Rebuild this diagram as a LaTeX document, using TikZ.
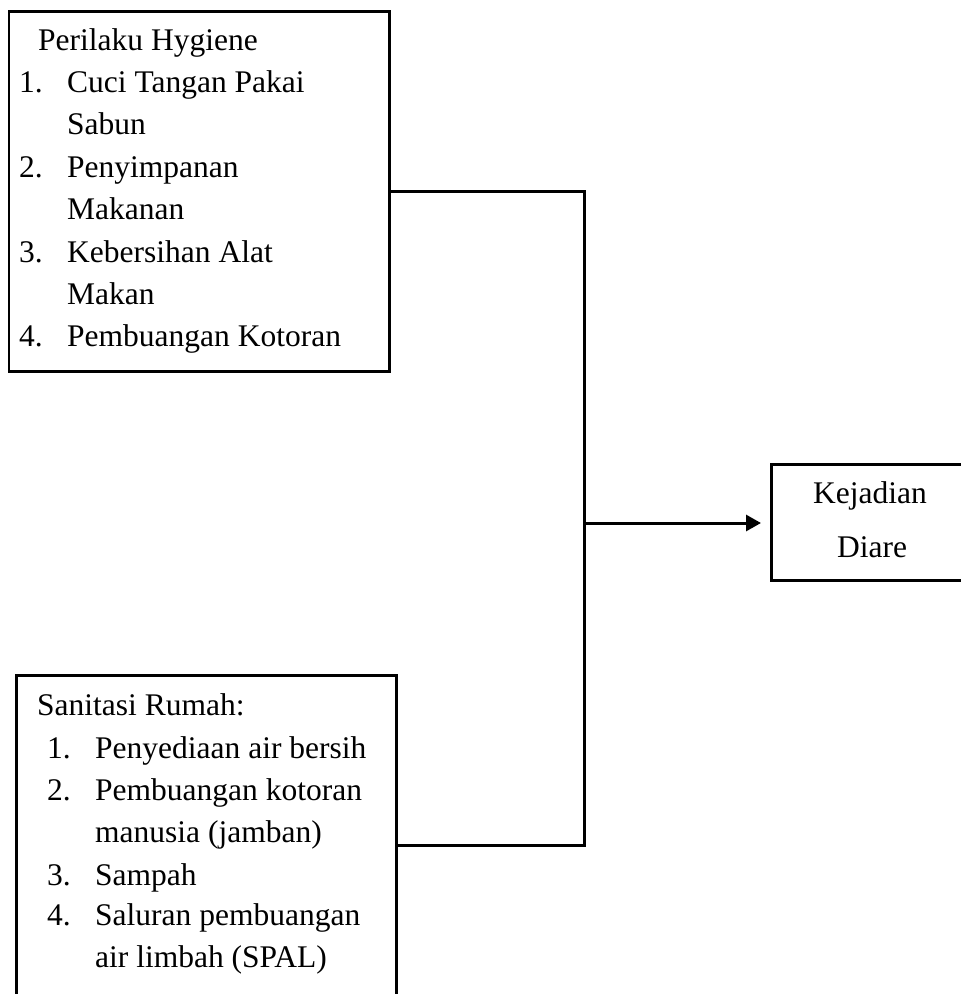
\documentclass[tikz,border=0pt]{standalone}
\usepackage{fontspec}
\setmainfont{Liberation Serif}
\usetikzlibrary{arrows.meta,calc}
\tikzset{
  boxnode/.style={draw, line width=2.7pt, inner sep=0pt, anchor=north west},
  txt/.style={inner sep=0pt, anchor=base west, font=\fontsize{31.5}{42}\selectfont},
  ctxt/.style={inner sep=0pt, anchor=base, font=\fontsize{31.5}{42}\selectfont},
  conn/.style={line width=3pt},
  arr/.style={line width=3pt, -{Triangle[length=15pt,width=16pt]}},
}
\begin{document}
\begin{tikzpicture}[x=1pt,y=-1pt]
\useasboundingbox (0,0) rectangle (961,994);
% boxes
\node[boxnode, minimum width=380.5pt, minimum height=360pt] (top) at (7.5,10) {};
\node[boxnode, minimum width=380pt, minimum height=340pt] (bot) at (15,674) {};
\node[boxnode, minimum width=220pt, minimum height=116pt] (diare) at (770,463) {};
% top box text
\node[txt] (t0) at (38,50) {Perilaku Hygiene};
\node[txt] (t1n) at (19,92.4) {1.};
\node[txt] (t1) at (67,92.4) {Cuci Tangan Pakai};
\node[txt] (t1b) at (67,134.8) {Sabun};
\node[txt] (t2n) at (19,177.2) {2.};
\node[txt] (t2) at (67,177.2) {Penyimpanan};
\node[txt] (t2b) at (67,219.6) {Makanan};
\node[txt] (t3n) at (19,262) {3.};
\node[txt] (t3) at (67,262) {Kebersihan Alat};
\node[txt] (t3b) at (67,304.4) {Makan};
\node[txt] (t4n) at (19,346.8) {4.};
\node[txt] (t4) at (67,346.8) {Pembuangan Kotoran};
% bottom box text
\node[txt] (b0) at (37,715) {Sanitasi Rumah:};
\node[txt] (b1n) at (47,758) {1.};
\node[txt] (b1) at (95,758) {Penyediaan air bersih};
\node[txt] (b2n) at (47,800) {2.};
\node[txt] (b2) at (95,800) {Pembuangan kotoran};
\node[txt] (b2b) at (95,842) {manusia (jamban)};
\node[txt] (b3n) at (47,885) {3.};
\node[txt] (b3) at (95,885) {Sampah};
\node[txt] (b4n) at (47,925) {4.};
\node[txt] (b4) at (95,925) {Saluran pembuangan};
\node[txt] (b4b) at (95,967) {air limbah (SPAL)};
% right box text
\node[ctxt] (d1) at (870,503) {Kejadian};
\node[ctxt] (d2) at (872,557) {Diare};
% connectors
\coordinate (jt) at (584,190);
\coordinate (jm) at (584,523);
\draw[conn] (top.east) -- (top.east -| jt) -- (bot.east -| jt) -- (bot.east);
\draw[arr, shorten >=9pt] (jm) -- (jm -| diare.west);
\end{tikzpicture}
\end{document}
